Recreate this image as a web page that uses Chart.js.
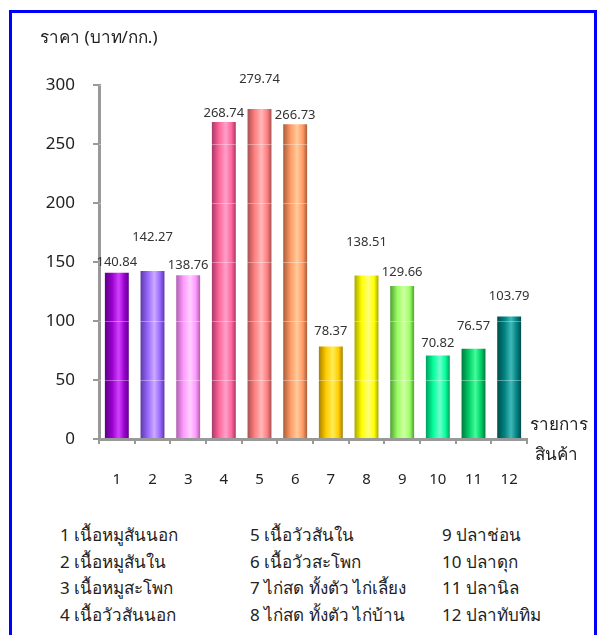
<!DOCTYPE html>
<html lang="th">
<head>
<meta charset="UTF-8">
<title>ราคาสินค้า</title>
<script src="https://cdn.jsdelivr.net/npm/chart.js@4.4.1/dist/chart.umd.min.js"></script>
<style>
    body { margin: 0; background: #fff; font-family: Tahoma, "Noto Sans", "DejaVu Sans", sans-serif; }
    #frame { position: absolute; left: 9px; top: 10px; width: 582px; height: 640px; border: 3px solid #0000ff; }
    #wrap { position: absolute; left: 0; top: 0; width: 599px; height: 500px; }
    #legend div { position: absolute; font-size: 17px; color: #222; line-height: 26px; white-space: nowrap; }
</style>
</head>
<body>
<div id="frame"></div>
<div id="wrap"><canvas id="priceChart" width="599" height="500"></canvas></div>
<div id="legend"></div>
<script>
const categories = ['1', '2', '3', '4', '5', '6', '7', '8', '9', '10', '11', '12']
const items = ['เนื้อหมูสันนอก', 'เนื้อหมูสันใน', 'เนื้อหมูสะโพก', 'เนื้อวัวสันนอก',
               'เนื้อวัวสันใน', 'เนื้อวัวสะโพก', 'ไก่สด ทั้งตัว ไก่เลี้ยง', 'ไก่สด ทั้งตัว ไก่บ้าน',
               'ปลาช่อน', 'ปลาดุก', 'ปลานิล', 'ปลาทับทิม']
const prices = [140.84, 142.27, 138.76, 268.74, 279.74, 266.73, 78.37, 138.51, 129.66, 70.82, 76.57, 103.79]
const yTicks = [0, 50, 100, 150, 200, 250, 300]

// dark edge, base, highlight for each cylinder
const barShades = [
    ['#5e0088', '#9900cc', '#d040ff'],
    ['#5a3aa8', '#9966ff', '#ccaaff'],
    ['#b060b0', '#ff99ff', '#ffd0ff'],
    ['#a83868', '#ff6699', '#ffa0cc'],
    ['#a85050', '#ff8080', '#ffb8b8'],
    ['#a85e38', '#ff9966', '#ffcc99'],
    ['#a88000', '#ffcc00', '#ffee55'],
    ['#a8a800', '#ffff00', '#ffff77'],
    ['#50a030', '#99ff66', '#d0ffa0'],
    ['#00a060', '#00ff99', '#70ffd0'],
    ['#007a3c', '#00cc66', '#40ff99'],
    ['#004c4c', '#008080', '#40b8b8']
]
// how far each value label sits above its bar (px)
const labelLift = [11, 34, 10, 9, 30, 9, 15, 33, 14, 12, 22, 20]

const FONT = 'Tahoma, "Noto Sans", "DejaVu Sans", sans-serif'
const barPct = 0.67

const cylinder = ctx => {
    const i = ctx.dataIndex
    const xs = ctx.chart.scales.x
    if (i === undefined || !xs) return barShades[0][1]
    const cx = xs.getPixelForValue(i)
    const half = xs.width / categories.length * barPct / 2
    if (!isFinite(cx) || !isFinite(half) || half <= 0) return barShades[i][1]
    const g = ctx.chart.ctx.createLinearGradient(cx - half, 0, cx + half, 0)
    const [dark, base, light] = barShades[i]
    g.addColorStop(0, dark)
    g.addColorStop(0.3, base)
    g.addColorStop(0.58, light)
    g.addColorStop(0.82, base)
    g.addColorStop(1, dark)
    return g
}

const extras = {
    id: 'extras',
    afterDatasetsDraw(chart) {
        const c = chart.ctx
        const area = chart.chartArea
        const ys = chart.scales.y
        c.save()
        // faint grid showing through the bars
        c.strokeStyle = 'rgba(255,255,255,0.35)'
        c.lineWidth = 1
        yTicks.slice(1).forEach(v => {
            const y = Math.round(ys.getPixelForValue(v)) + 0.5
            c.beginPath(); c.moveTo(area.left, y); c.lineTo(area.right, y); c.stroke()
        })
        c.font = '13px ' + FONT
        c.fillStyle = '#333'
        c.textAlign = 'center'
        c.textBaseline = 'middle'
        chart.getDatasetMeta(0).data.forEach((bar, i) => {
            c.fillText(prices[i].toFixed(2), bar.x, bar.y - labelLift[i])
        })
        c.restore()
    },
    afterDraw(chart) {
        const c = chart.ctx
        const area = chart.chartArea
        c.save()
        c.font = '17px ' + FONT
        c.fillStyle = '#222'
        c.textAlign = 'left'
        c.textBaseline = 'middle'
        c.fillText('ราคา (บาท/กก.)', 40, 38)
        c.fillText('รายการ', area.right + 3, area.bottom - 14)
        c.fillText('สินค้า', area.right + 8, area.bottom + 16)
        c.restore()
    }
}

const chart = new Chart(document.getElementById('priceChart'), {
    type: 'bar',
    data: {
        labels: categories,
        datasets: [{
            data: prices,
            backgroundColor: cylinder,
            borderWidth: 0,
            barPercentage: barPct,
            categoryPercentage: 1
        }]
    },
    options: {
        responsive: false,
        animation: false,
        layout: { padding: { top: 85, right: 72, left: 0, bottom: 0 } },
        plugins: { legend: { display: false }, tooltip: { enabled: false } },
        scales: {
            x: {
                offset: true,
                grid: { drawOnChartArea: false, offset: true, tickLength: 5, color: '#999', lineWidth: 2 },
                border: { color: '#999', width: 3 },
                ticks: { color: '#222', font: { size: 15, family: FONT }, padding: 27 },
                afterFit: s => { s.height = 61 }
            },
            y: {
                min: 0,
                max: 300,
                ticks: { stepSize: 50, padding: 18, color: '#222', font: { size: 17, family: FONT } },
                grid: { drawOnChartArea: false, tickLength: 6, color: '#999', lineWidth: 2 },
                border: { color: '#999', width: 3 },
                afterFit: s => { s.width = 99 }
            }
        }
    },
    plugins: [extras]
})
// second pass so the gradients pick up the laid-out scale
chart.update('none')

// item key under the chart, four rows per column
const legend = document.getElementById('legend')
const colLeft = [60, 250, 442]
items.forEach((name, i) => {
    const d = document.createElement('div')
    d.textContent = categories[i] + ' ' + name
    d.style.left = colLeft[Math.floor(i / 4)] + 'px'
    d.style.top = (522 + (i % 4) * 26.7) + 'px'
    legend.appendChild(d)
})
</script>
</body>
</html>
